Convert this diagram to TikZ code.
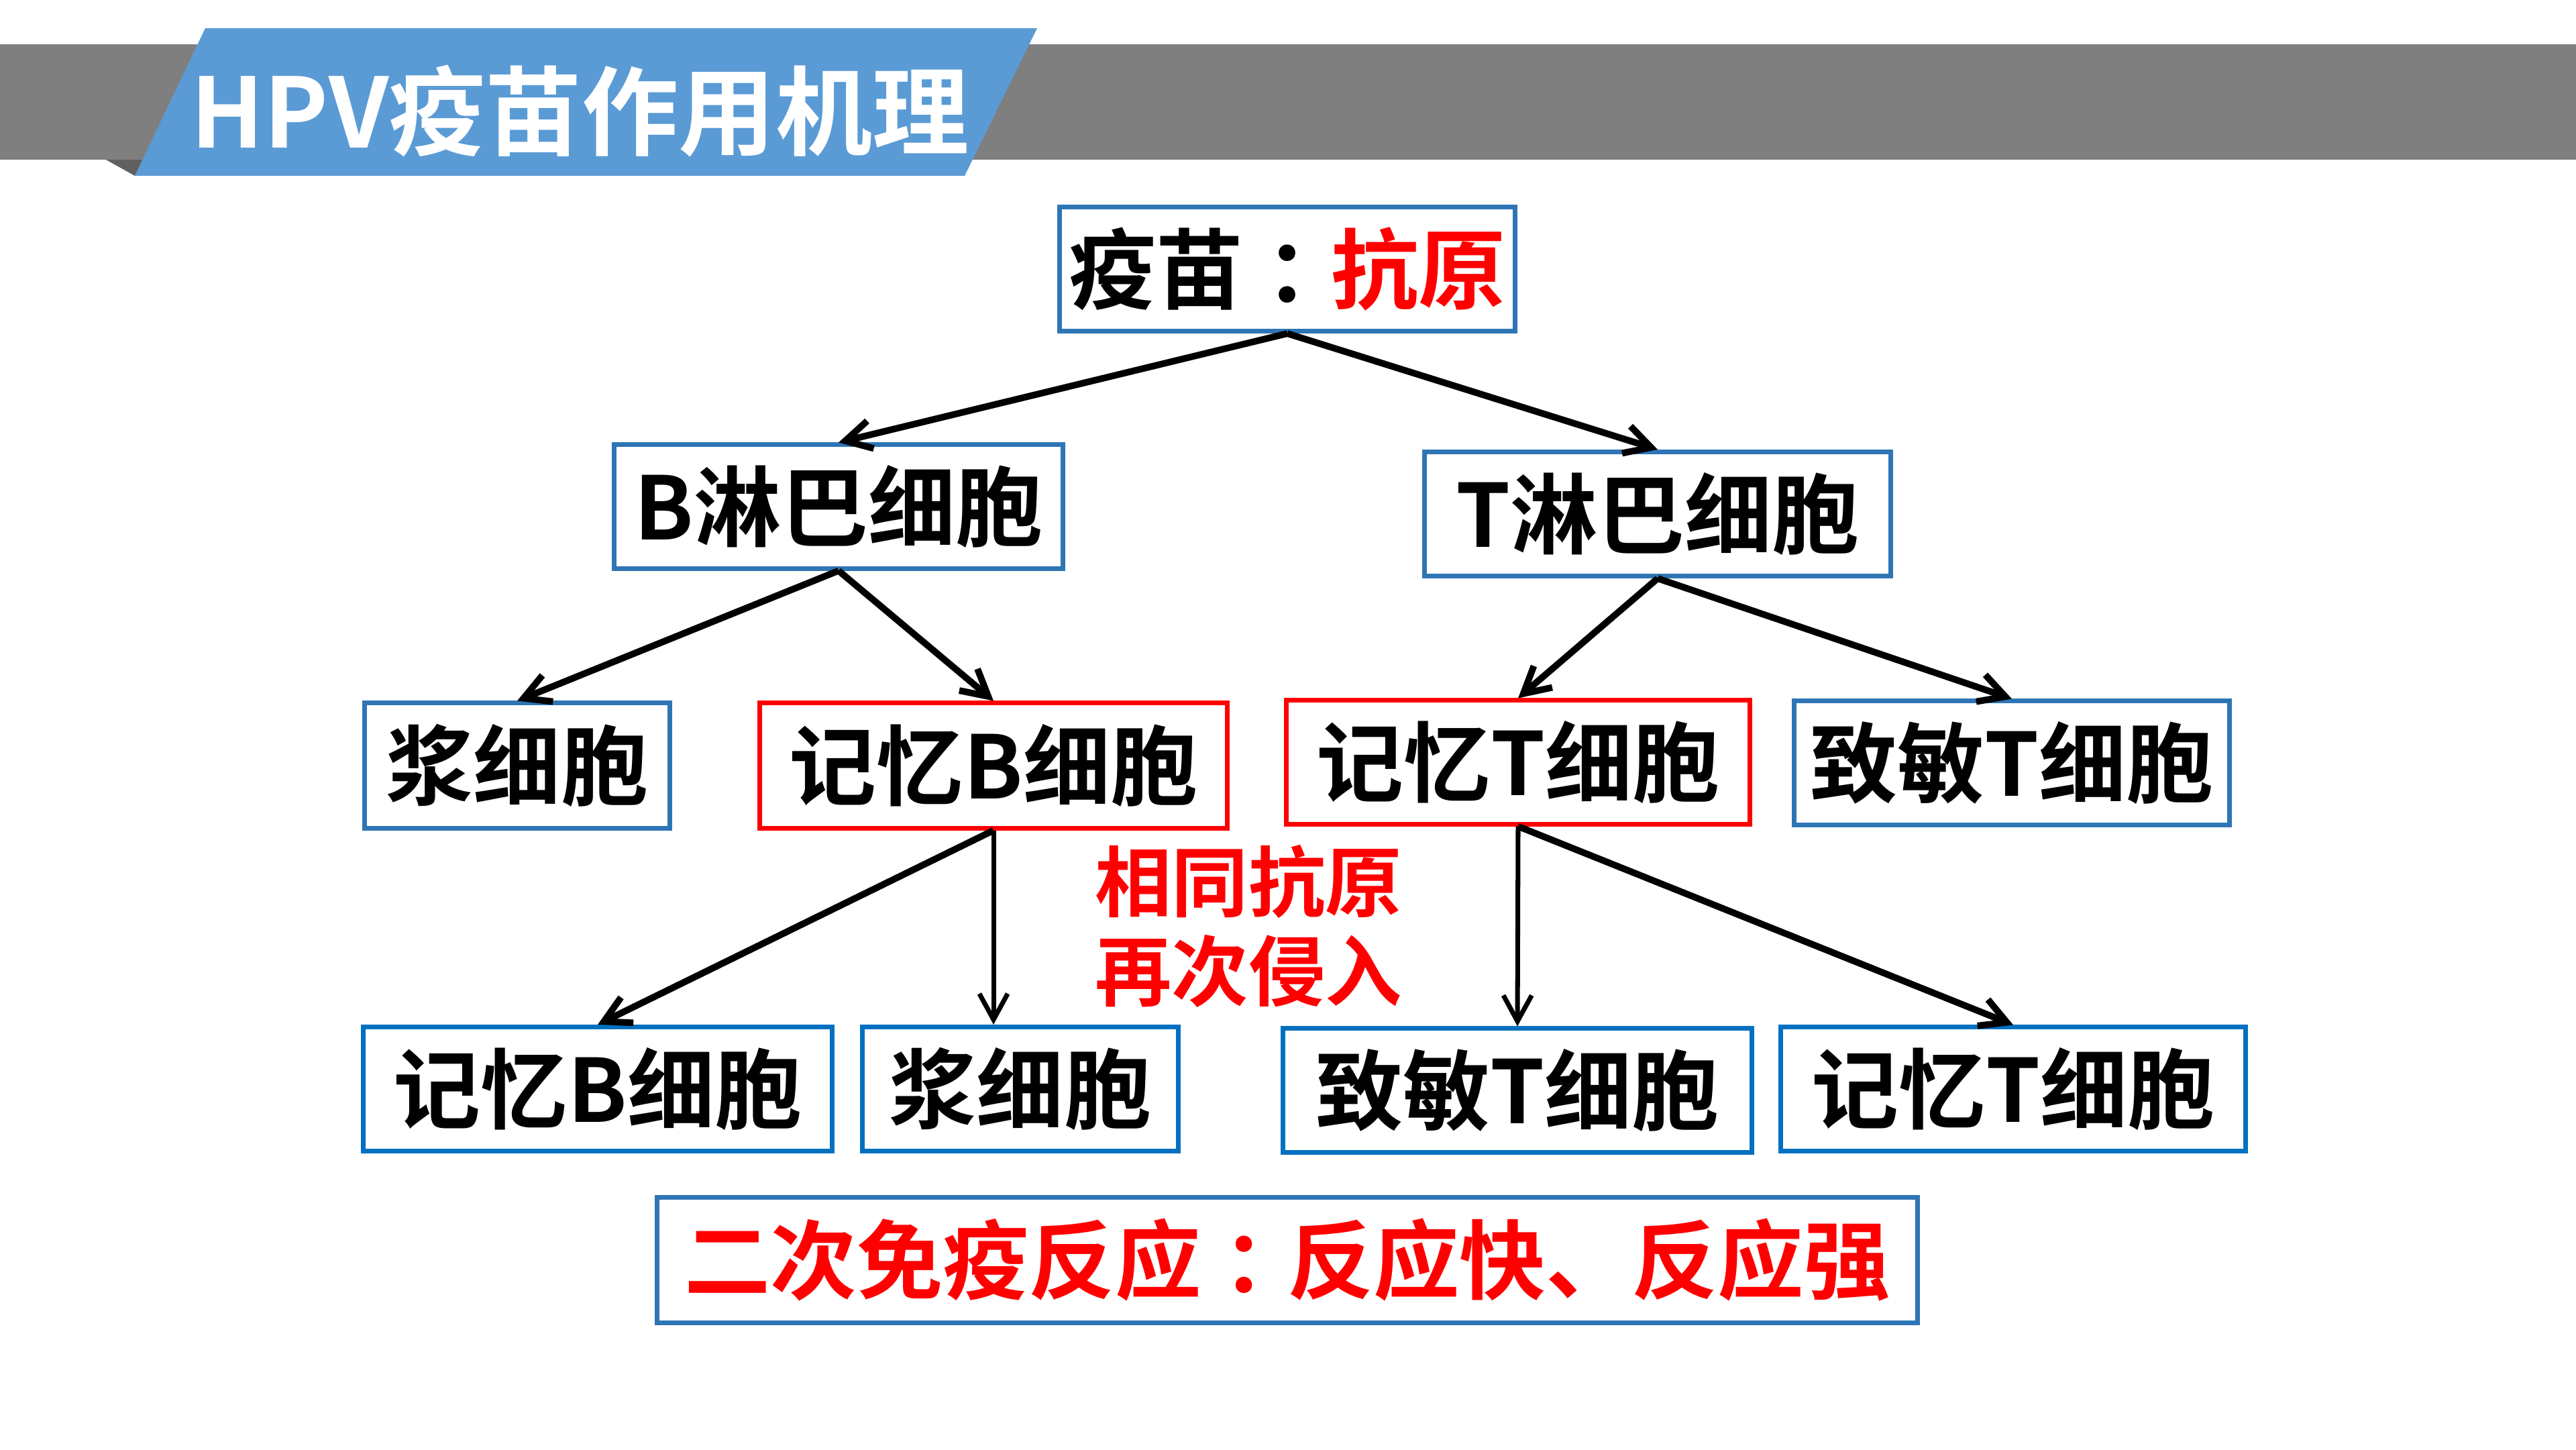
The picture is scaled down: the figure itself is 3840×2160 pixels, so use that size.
\documentclass[tikz,border=0pt]{standalone}
\usepackage{fontspec}
\setmainfont{Noto Sans CJK SC}[BoldFont={* Bold}]
\usetikzlibrary{arrows.meta}
\definecolor{boxblue}{RGB}{46,117,182}
\definecolor{boxblueb}{RGB}{0,112,192}
\definecolor{barblue}{RGB}{91,155,213}
\definecolor{bargray}{RGB}{127,127,127}
\definecolor{foldgray}{RGB}{96,96,96}
\definecolor{pptred}{RGB}{255,0,0}
\begin{document}
\begin{tikzpicture}[x=0.01cm,y=-0.01cm,
  cell/.style={draw=boxblue, line width=2pt, inner sep=0pt, fill=white, text=black,
    font=\bfseries\fontsize{37}{40}\selectfont},
  cellb/.style={cell, draw=boxblueb},
  redcell/.style={cell, draw=pptred},
  conn/.style={line width=2.8pt, -{Straight Barb[length=11pt,width=12pt]}},
  thinconn/.style={conn, line width=2pt}
]
\fill[white] (0,0) rectangle (3840,2160);
\useasboundingbox (0,0) rectangle (3840,2160);
% header
\fill[bargray] (0,66) rectangle (3840,238);
\fill[foldgray] (158,238) -- (215,238) -- (201,262) -- cycle;
\fill[barblue] (306,42) -- (1546,42) -- (1438,262) -- (201,262) -- cycle;
\node[anchor=base west, text=white, inner sep=0pt, font=\bfseries\fontsize{41}{44}\selectfont] (title) at (284,220) {HPV疫苗作用机理};
% nodes
\node[cell, minimum width=6.79cm, minimum height=1.85cm] (vac) at (1919,401) {疫苗\kern0.25em：\kern-0.25em\textcolor{pptred}{抗原}};
\node[cell, minimum width=6.69cm, minimum height=1.84cm] (bly) at (1250,755) {B淋巴细胞};
\node[cell, minimum width=6.95cm, minimum height=1.85cm] (tly) at (2471,766) {T淋巴细胞};
\node[cell, minimum width=4.55cm, minimum height=1.86cm] (pl3) at (771,1141) {浆细胞};
\node[redcell, minimum width=6.97cm, minimum height=1.86cm] (mb3) at (1481,1141) {记忆B细胞};
\node[redcell, minimum width=6.91cm, minimum height=1.84cm] (mt3) at (2263,1136) {记忆T细胞};
\node[cell, minimum width=6.49cm, minimum height=1.84cm] (st3) at (2999,1137) {致敏T细胞};
\node[cellb, minimum width=6.98cm, minimum height=1.85cm] (mb4) at (891,1623) {记忆B细胞};
\node[cellb, minimum width=4.71cm, minimum height=1.85cm] (pl4) at (1521,1623) {浆细胞};
\node[cellb, minimum width=6.98cm, minimum height=1.84cm] (st4) at (2262,1625) {致敏T细胞};
\node[cellb, minimum width=6.93cm, minimum height=1.84cm] (mt4) at (3001,1623) {记忆T细胞};
\node[cell, minimum width=18.78cm, minimum height=1.86cm, text=pptred, font=\bfseries\fontsize{36.5}{40}\selectfont] (sec) at (1919,1878) {二次免疫反应\kern0.25em：\kern-0.25em反应快、反应强};
\node[align=center, text=pptred, inner sep=0pt, font=\bfseries\fontsize{32.5}{37.8}\selectfont] (again) at (1861,1380) {相同抗原\\再次侵入};
% connectors
\draw[conn] (vac.south) -- (bly.north);
\draw[conn] (vac.south) -- (tly.north);
\draw[conn] (bly.south) -- (pl3.north);
\draw[conn] (bly.south) -- (mb3.north);
\draw[conn] (tly.south) -- (mt3.north);
\draw[conn] (tly.south) -- (st3.north);
\draw[conn] (mb3.south) -- (mb4.north);
\draw[thinconn] (mb3.south) -- (mb3.south |- pl4.north);
\draw[thinconn] (mt3.south) -- (st4.north);
\draw[conn] (mt3.south) -- (mt4.north);
\end{tikzpicture}
\end{document}
